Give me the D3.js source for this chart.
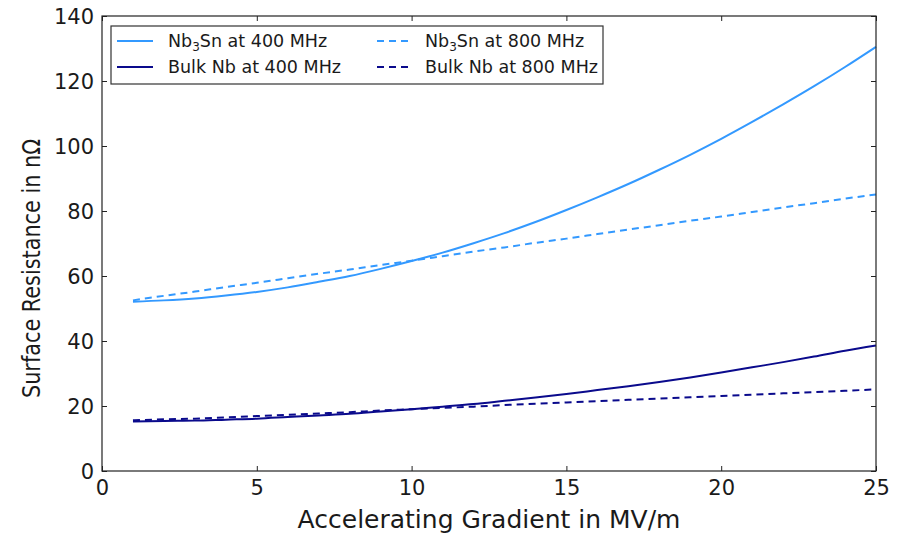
<!DOCTYPE html>
<html><head><meta charset="utf-8">
<script src="https://cdn.jsdelivr.net/npm/d3@7"></script>
<style>body{margin:0;background:#fff} svg text{font-family:"DejaVu Sans",sans-serif;fill:#1a1a1a}</style>
</head><body><svg id="c" width="897" height="536"></svg>
<script>
const gradient = [1,2,3,4,5,6,7,8,9,10,11,12,13,14,15,16,17,18,19,20,21,22,23,24,25];
const nb3sn400 = [52.1,52.5,53.1,54.0,55.1,56.5,58.2,60.0,62.2,64.6,67.2,70.1,73.2,76.6,80.3,84.2,88.3,92.7,97.3,102.2,107.4,112.8,118.4,124.3,130.5];
const nb3sn800 = [52.5,53.9,55.2,56.6,57.9,59.3,60.7,62.0,63.4,64.7,66.1,67.5,68.8,70.2,71.5,72.9,74.3,75.6,77.0,78.3,79.7,81.1,82.4,83.8,85.1];
const bulk400 = [15.2,15.4,15.5,15.8,16.1,16.6,17.1,17.6,18.3,19.0,19.8,20.6,21.6,22.6,23.7,24.9,26.1,27.4,28.8,30.3,31.9,33.5,35.2,37.0,38.6];
const bulk800 = [15.6,15.9,16.1,16.5,16.9,17.3,17.7,18.1,18.6,19.0,19.4,19.8,20.3,20.7,21.1,21.5,21.9,22.3,22.7,23.1,23.5,23.9,24.3,24.7,25.1];
const xTicks = [0,5,10,15,20,25];
const yTicks = [0,20,40,60,80,100,120,140];
const seriesNames = [["Nb","3","Sn at 400 MHz"],["Nb","3","Sn at 800 MHz"],["Bulk Nb at 400 MHz"],["Bulk Nb at 800 MHz"]];

const light = "#3399ff", dark = "#0a0a8c";
const series = [
  {values: nb3sn400, color: light, dash: null, name: seriesNames[0]},
  {values: nb3sn800, color: light, dash: "7,5", name: seriesNames[1]},
  {values: bulk400, color: dark, dash: null, name: seriesNames[2]},
  {values: bulk800, color: dark, dash: "7,5", name: seriesNames[3]}
];

const W = 897, H = 536;
const m = {left: 102, right: 21, top: 16, bottom: 65};
const svg = d3.select("#c");
const x = d3.scaleLinear().domain([0,25]).range([m.left, W - m.right]);
const y = d3.scaleLinear().domain([0,140]).range([H - m.bottom, m.top]);

// lines
const line = d3.line().x((d,i)=>x(gradient[i])).y(d=>y(d)).curve(d3.curveMonotoneX);
svg.append("g").selectAll("path").data(series).join("path")
  .attr("d", d=>line(d.values))
  .attr("fill","none")
  .attr("stroke", d=>d.color)
  .attr("stroke-width", 2)
  .attr("stroke-dasharray", d=>d.dash);

// axes
const tl = 5;
const gx = svg.append("g").attr("transform",`translate(0,${H-m.bottom})`)
  .call(d3.axisBottom(x).tickValues(xTicks).tickSize(-tl).tickPadding(9).tickFormat(d3.format("d")));
const gxt = svg.append("g").attr("transform",`translate(0,${m.top})`)
  .call(d3.axisTop(x).tickValues(xTicks).tickSize(-tl).tickFormat(""));
const gy = svg.append("g").attr("transform",`translate(${m.left},0)`)
  .call(d3.axisLeft(y).tickValues(yTicks).tickSize(-tl).tickPadding(8).tickFormat(d3.format("d")));
const gyr = svg.append("g").attr("transform",`translate(${W-m.right},0)`)
  .call(d3.axisRight(y).tickValues(yTicks).tickSize(-tl).tickFormat(""));
[gx,gxt,gy,gyr].forEach(g=>{
  g.select(".domain").remove();
  g.selectAll(".tick line").attr("stroke","#222");
  g.selectAll(".tick text").attr("font-size",21).attr("font-family","DejaVu Sans").attr("fill","#1a1a1a");
});
gy.selectAll(".tick text").attr("dy","0.36em");

svg.append("rect").attr("x",m.left).attr("y",m.top)
  .attr("width",W-m.left-m.right).attr("height",H-m.top-m.bottom)
  .attr("fill","none").attr("stroke","#222").attr("stroke-width",1.2);

// axis labels
svg.append("text").attr("x",(m.left+W-m.right)/2).attr("y",528)
  .attr("text-anchor","middle").attr("font-size",25).text("Accelerating Gradient in MV/m");
svg.append("text").attr("transform",`translate(40,${(m.top+H-m.bottom)/2 + 25}) scale(1.22,1) rotate(-90)`)
  .attr("text-anchor","middle").attr("font-size",20.8).text("Surface Resistance in nΩ");

// legend
const lg = svg.append("g");
lg.append("rect").attr("x",111).attr("y",26).attr("width",492).attr("height",58)
  .attr("fill","#fff").attr("stroke","#333").attr("stroke-width",1.2);
const pos = [[117,41],[377,41],[117,67],[377,67]];
series.forEach((s,i)=>{
  const [px,py] = pos[i];
  lg.append("line").attr("x1",px).attr("x2",px+36).attr("y1",py).attr("y2",py)
    .attr("stroke",s.color).attr("stroke-width",2).attr("stroke-dasharray",s.dash);
  const t = lg.append("text").attr("x",px+(i%2===0?51:48)).attr("y",py+6).attr("font-size",17.5);
  if (s.name.length === 3) {
    t.append("tspan").text(s.name[0]);
    t.append("tspan").attr("font-size",12).attr("dy",4).text(s.name[1]);
    t.append("tspan").attr("dy",-4).text(s.name[2]);
  } else {
    t.text(s.name[0]);
  }
});
</script></body></html>
